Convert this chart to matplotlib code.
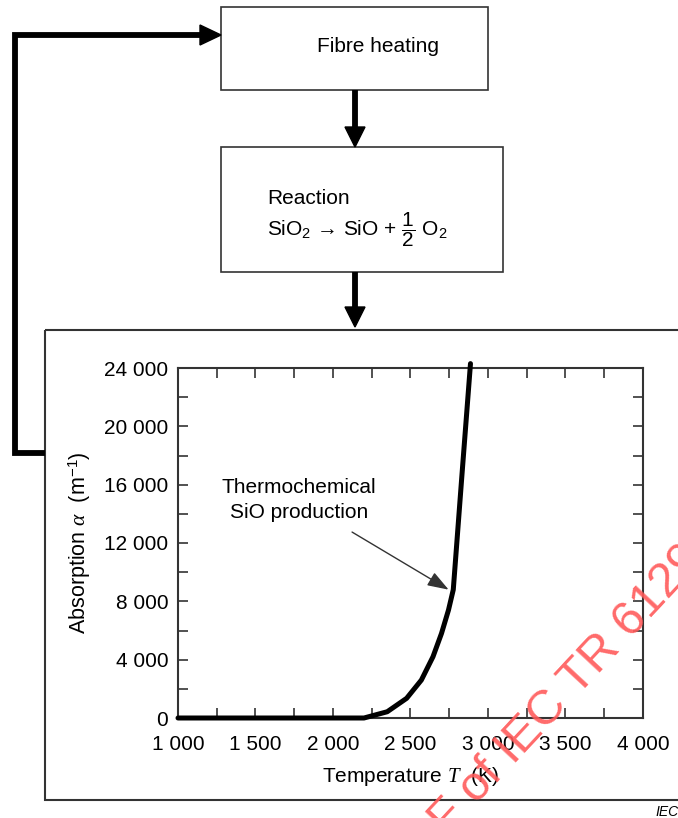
import matplotlib.pyplot as plt
import matplotlib.ticker as mticker
from matplotlib.patches import Rectangle, Polygon
import numpy as np

plt.rcParams['font.family'] = ['Liberation Sans', 'DejaVu Sans']
plt.rcParams['mathtext.fontset'] = 'custom'
plt.rcParams['mathtext.rm'] = 'Liberation Sans'
plt.rcParams['mathtext.it'] = 'Liberation Serif:italic'
plt.rcParams['mathtext.sf'] = 'Liberation Sans'
plt.rcParams['mathtext.bf'] = 'Liberation Sans:bold'

# Data (temperature in K, absorption in 1/m)
temperature = [1000, 1500, 2000, 2200, 2350, 2475, 2570, 2645, 2700, 2745, 2776, 2830, 2887]
absorption = [0, 0, 0, 0, 430, 1350, 2600, 4200, 5800, 7400, 8800, 16400, 24300]

x_ticks = [1000, 1500, 2000, 2500, 3000, 3500, 4000]
y_ticks = [0, 4000, 8000, 12000, 16000, 20000, 24000]

box_texts = ['Fibre heating', 'Reaction']
equation = r'SiO$_2$ → SiO + $\dfrac{1}{2}$ O$_2$'
note = 'Thermochemical\nSiO production'

W, H = 678, 818
fig = plt.figure(figsize=(W / 100, H / 100), dpi=100)

# overlay in pixel coordinates for the flow diagram
bg = fig.add_axes([0, 0, 1, 1])
bg.set_xlim(0, W)
bg.set_ylim(H, 0)
bg.axis('off')

edge = '#333333'
bg.add_patch(Rectangle((221, 7), 267, 83, fill=False, ec=edge, lw=1.2))
bg.add_patch(Rectangle((221, 147), 282, 125, fill=False, ec=edge, lw=1.2))
bg.add_patch(Rectangle((45, 330), 700, 470, fill=False, ec=edge, lw=1.5, clip_on=False))

bg.text(378, 46, box_texts[0], fontsize=15, ha='center', va='center')
bg.text(267, 198, box_texts[1], fontsize=15, ha='left', va='center')
bg.text(267, 230, equation, fontsize=15, ha='left', va='center')


def down_arrow(x, y0, y1):
    bg.plot([x, x], [y0, y1 - 18], color='black', lw=4.2, solid_capstyle='butt')
    bg.add_patch(Polygon([[x - 10, y1 - 20], [x + 10, y1 - 20], [x, y1]], closed=True, color='black'))


down_arrow(355, 90, 147)
down_arrow(355, 272, 327)

# feedback loop
bg.plot([45, 15, 15, 202], [453, 453, 35, 35], color='black', lw=4.2,
        solid_joinstyle='miter', solid_capstyle='butt')
bg.add_patch(Polygon([[200, 25], [200, 45], [221, 35]], closed=True, color='black'))

# the plot
ax = fig.add_axes([178 / W, 1 - 718 / H, (643 - 178) / W, (718 - 368) / H])
ax.plot(temperature, absorption, color='black', lw=3.6, clip_on=False,
        solid_joinstyle='round', solid_capstyle='round', zorder=3)
ax.set_xlim(1000, 4000)
ax.set_ylim(0, 24000)
ax.set_xticks(x_ticks)
ax.set_yticks(y_ticks)
ax.xaxis.set_minor_locator(mticker.MultipleLocator(250))
ax.yaxis.set_minor_locator(mticker.MultipleLocator(2000))
fmt = mticker.FuncFormatter(lambda v, p: f'{v:,.0f}'.replace(',', ' '))
ax.xaxis.set_major_formatter(fmt)
ax.yaxis.set_major_formatter(fmt)
ax.tick_params(which='both', direction='in', length=7, width=1.2, color=edge,
               top=True, right=True, labelsize=15)
ax.tick_params(axis='x', pad=12)
ax.tick_params(axis='y', pad=7)
for s in ax.spines.values():
    s.set_color(edge)
    s.set_linewidth(1.5)

ax.set_xlabel(r'Temperature $T$  (K)', fontsize=15, labelpad=8)
ax.set_ylabel(r'Absorption $\alpha$  (m$^{-1}$)', fontsize=15.5, labelpad=8)

ax.text(1780, 14950, note, fontsize=15, ha='center', va='center', linespacing=1.4)
ax.annotate('', xy=(temperature[10] - 30, absorption[10]), xytext=(2123, 12750),
            arrowprops=dict(arrowstyle='-|>,head_length=1.0,head_width=0.35',
                            color='#333333', lw=1.0, mutation_scale=13,
                            shrinkA=0, shrinkB=0))

# watermark (drawn over everything) and figure id
fig.text(401 / W, 1 - 886 / H, 'PDF of IEC TR 61292-4', fontsize=35, color='#ff5a5a',
         alpha=0.9, rotation=47, rotation_mode='anchor', ha='left', va='baseline', zorder=10)
fig.text(655 / W, 1 - 816 / H, 'IEC', fontsize=10, style='italic', ha='left', va='baseline')

fig.savefig('out.png', dpi=100)
